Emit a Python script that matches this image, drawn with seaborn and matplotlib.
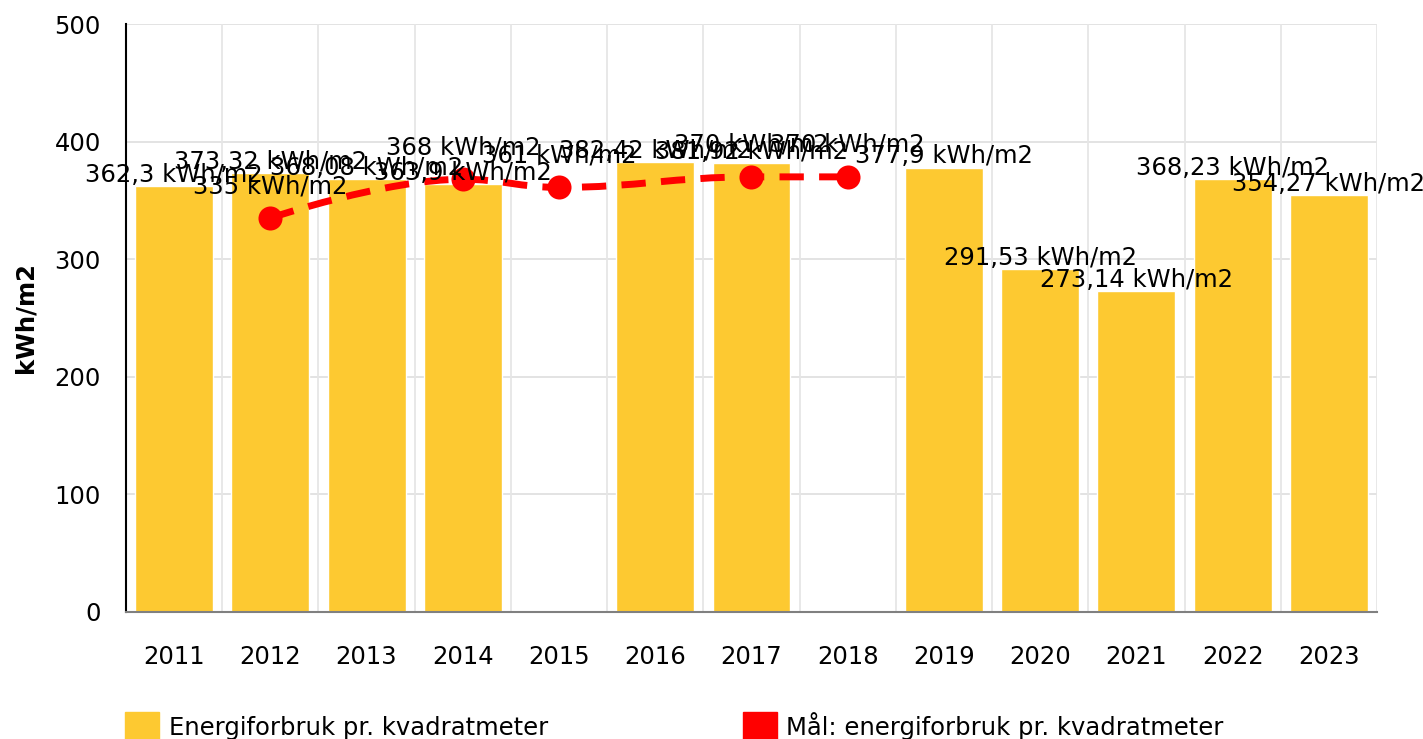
import numpy as np
import pandas as pd
import matplotlib.pyplot as plt
import seaborn as sns
from matplotlib.path import Path
from matplotlib.patches import PathPatch, Patch

years = ["2011", "2012", "2013", "2014", "2015", "2016", "2017",
         "2018", "2019", "2020", "2021", "2022", "2023"]
usage = [362.3, 373.32, 368.08, 363.9, np.nan, 382.42, 381.92,
         np.nan, 377.9, 291.53, 273.14, 368.23, 354.27]
target_years = ["2012", "2014", "2015", "2017", "2018"]
target = [335, 368, 361, 370, 370]

BAR_COLOR = "#fdc931"
LINE_COLOR = "#ff0000"
FS = 17.5


def fmt(v):
    return f"{v:g} kWh/m2".replace(".", ",")


def spline_path(xs, ys, smoothing=1.5):
    # bezier control points the way Highcharts builds its "spline" series
    denom = smoothing + 1
    n = len(xs)
    left = [None] * n
    right = [None] * n
    for i in range(1, n - 1):
        x, y = xs[i], ys[i]
        lx, ly = xs[i - 1], ys[i - 1]
        nx, ny = xs[i + 1], ys[i + 1]
        lcx, lcy = (smoothing * x + lx) / denom, (smoothing * y + ly) / denom
        rcx, rcy = (smoothing * x + nx) / denom, (smoothing * y + ny) / denom
        if rcx != lcx:
            corr = (rcy - lcy) * (rcx - x) / (rcx - lcx) + y - rcy
            lcy += corr
            rcy += corr
        if lcy > ly and lcy > y:
            lcy = max(ly, y); rcy = 2 * y - lcy
        elif lcy < ly and lcy < y:
            lcy = min(ly, y); rcy = 2 * y - lcy
        if rcy > ny and rcy > y:
            rcy = max(ny, y); lcy = 2 * y - rcy
        elif rcy < ny and rcy < y:
            rcy = min(ny, y); lcy = 2 * y - rcy
        left[i] = (lcx, lcy)
        right[i] = (rcx, rcy)
    verts = [(xs[0], ys[0])]
    codes = [Path.MOVETO]
    for i in range(1, n):
        verts += [right[i - 1] or (xs[i - 1], ys[i - 1]),
                  left[i] or (xs[i], ys[i]),
                  (xs[i], ys[i])]
        codes += [Path.CURVE4] * 3
    return Path(verts, codes)


def main():
    sns.set_style("white")
    plt.rcParams["font.family"] = ["DejaVu Sans"]
    plt.rcParams["font.size"] = FS
    plt.rcParams["text.color"] = "#000000"
    plt.rcParams["axes.labelcolor"] = "#000000"
    plt.rcParams["xtick.labelcolor"] = "#000000"
    plt.rcParams["ytick.labelcolor"] = "#000000"

    df = pd.DataFrame({"year": years, "usage": usage})

    fig = plt.figure(figsize=(14.23, 7.39), dpi=100)
    ax = fig.add_axes([0.0885, 0.172, 0.8792, 0.7955])

    sns.barplot(data=df, x="year", y="usage", order=years, color=BAR_COLOR,
                saturation=1, width=0.81, ax=ax, zorder=2)

    # target line (spline) + markers
    tx = [years.index(y) for y in target_years]
    ax.add_patch(PathPatch(spline_path(tx, target), fill=False, edgecolor=LINE_COLOR,
                           lw=5, linestyle=(0, (3.5, 2.2)), capstyle="butt", zorder=3))
    sns.scatterplot(x=tx, y=target, color=LINE_COLOR, s=300, linewidth=0,
                    ax=ax, zorder=4)

    # data labels
    for i, v in enumerate(usage):
        if np.isnan(v):
            continue
        ax.annotate(fmt(v), (i, v), xytext=(0, 3), textcoords="offset points",
                    ha="center", va="baseline", fontsize=FS, zorder=6)
    for x, v in zip(tx, target):
        ax.annotate(fmt(v), (x, v), xytext=(0, 18), textcoords="offset points",
                    ha="center", va="baseline", fontsize=FS, zorder=6)

    ax.set_xlim(-0.5, len(years) - 0.5)
    ax.set_ylim(0, 500)
    ax.set_yticks(range(0, 501, 100))
    ax.set_xlabel("")
    ax.set_ylabel("kWh/m2", fontweight="bold", fontsize=FS, labelpad=12)

    # gridlines: horizontal at ticks, vertical at category boundaries
    for y in range(100, 501, 100):
        ax.axhline(y, color="#e0e0e0", lw=1.3, zorder=0)
    for b in np.arange(0.5, len(years), 1.0):
        ax.axvline(b, color="#e6e6e6", lw=1.3, zorder=0)

    for s in ["top", "right"]:
        ax.spines[s].set_visible(False)
    ax.spines["left"].set_color("#000000")
    ax.spines["left"].set_linewidth(1.5)
    ax.spines["bottom"].set_color("#808080")
    ax.spines["bottom"].set_linewidth(1.5)
    ax.tick_params(axis="y", length=8, width=1.3, color="#000000", pad=10, labelsize=FS)
    ax.tick_params(axis="x", length=8, width=1.3, color="#999999", pad=16, labelsize=FS)

    handles = [Patch(facecolor=BAR_COLOR, edgecolor=BAR_COLOR),
               Patch(facecolor=LINE_COLOR, edgecolor=LINE_COLOR)]
    fig.legend(handles, ["Energiforbruk pr. kvadratmeter", "Mål: energiforbruk pr. kvadratmeter"],
               loc="upper left", bbox_to_anchor=(0.088, 0.037), ncol=2, frameon=False,
               fontsize=FS, handlelength=1.4, handleheight=1.4, handletextpad=0.4,
               columnspacing=8.0, borderaxespad=0, borderpad=0)

    fig.savefig("out.png", dpi=100)
    plt.close(fig)


if __name__ == "__main__":
    main()
